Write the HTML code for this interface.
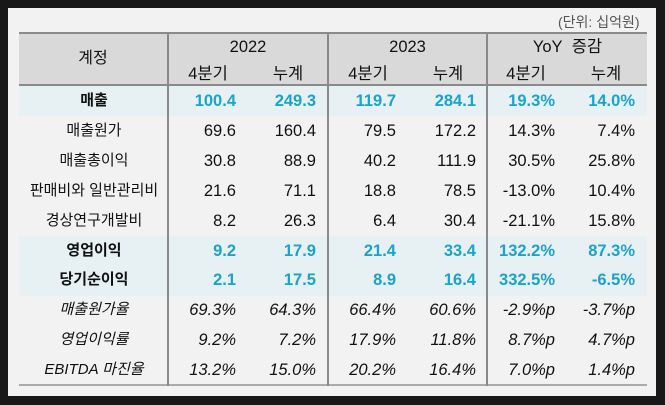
<!DOCTYPE html>
<html><head><meta charset="utf-8"><style>
*{margin:0;padding:0;box-sizing:border-box}
body{width:665px;height:405px;background:#181818;position:relative;overflow:hidden;font-family:"Liberation Sans","Noto Sans CJK KR",sans-serif;color:#111}
#p{position:absolute;left:8px;top:8px;width:648px;height:388px;background:#f2f2f2}
.a{position:absolute;font-size:16.5px;line-height:20px;white-space:nowrap}
.l{font-size:15px}
.r{text-align:right}
.c{text-align:center}
.b{font-weight:bold}
.bl{color:#1aa3cc;font-weight:bold}
.i{font-style:italic}
</style></head><body>
<div id="p"></div>
<div class="a" style="left:558px;top:12px;font-size:14px;color:#555">(단위: 십억원)</div>
<div style="position:absolute;left:19px;top:32px;width:628px;height:54px;background:#d9d9d9;border-top:2px solid #8a8a8a;border-bottom:2px solid #8a8a8a"></div>
<div style="position:absolute;left:19px;top:86px;width:628px;height:30px;background:#e7f0f3"></div>
<div style="position:absolute;left:19px;top:236px;width:628px;height:60px;background:#e7f0f3"></div>
<div style="position:absolute;left:19px;top:384px;width:628px;height:2px;background:#aaa"></div>
<div style="position:absolute;left:167px;top:32px;width:2px;height:354px;background:#8a8a8a"></div>
<div style="position:absolute;left:327px;top:32px;width:2px;height:354px;background:#8a8a8a"></div>
<div style="position:absolute;left:486px;top:32px;width:2px;height:354px;background:#8a8a8a"></div>
<div class="a c l" style="left:19px;width:148px;top:49px;font-size:16px">계정</div>
<div class="a c" style="left:169px;width:158px;top:37px">2022</div>
<div class="a c" style="left:329px;width:157px;top:37px">2023</div>
<div class="a c" style="left:488px;width:159px;top:37px">YoY&nbsp; 증감</div>
<div class="a c" style="left:180px;width:56px;top:64px">4분기</div>
<div class="a c" style="left:260px;width:56px;top:64px">누계</div>
<div class="a c" style="left:340px;width:56px;top:64px">4분기</div>
<div class="a c" style="left:420px;width:56px;top:64px">누계</div>
<div class="a c" style="left:498px;width:56px;top:64px">4분기</div>
<div class="a c" style="left:578px;width:56px;top:64px">누계</div>
<div id="rows"></div>
<script>
var d=[["매출","100.4","249.3","119.7","284.1","19.3%","14.0%","h"],
["매출원가","69.6","160.4","79.5","172.2","14.3%","7.4%",""],
["매출총이익","30.8","88.9","40.2","111.9","30.5%","25.8%",""],
["판매비와 일반관리비","21.6","71.1","18.8","78.5","-13.0%","10.4%",""],
["경상연구개발비","8.2","26.3","6.4","30.4","-21.1%","15.8%",""],
["영업이익","9.2","17.9","21.4","33.4","132.2%","87.3%","h"],
["당기순이익","2.1","17.5","8.9","16.4","332.5%","-6.5%","h"],
["매출원가율","69.3%","64.3%","66.4%","60.6%","-2.9%p","-3.7%p","i"],
["영업이익률","9.2%","7.2%","17.9%","11.8%","8.7%p","4.7%p","i"],
["EBITDA 마진율","13.2%","15.0%","20.2%","16.4%","7.0%p","1.4%p","i"]];
var rights=[236,316,396,476,555,635],h="";
d.forEach(function(r,k){var y=86+k*29.9+5;var t=r[7];
var lc=t=="h"?"b":(t=="i"?"i":"");var vc=t=="h"?"bl":(t=="i"?"i":"");
h+='<div class="a c l '+lc+'" style="left:19px;width:150px;top:'+y+'px">'+r[0]+'</div>';
for(var j=1;j<7;j++)h+='<div class="a r '+vc+'" style="left:'+(rights[j-1]-100)+'px;width:100px;top:'+y+'px">'+r[j]+'</div>';});
document.getElementById("rows").innerHTML=h;
</script>
</body></html>
